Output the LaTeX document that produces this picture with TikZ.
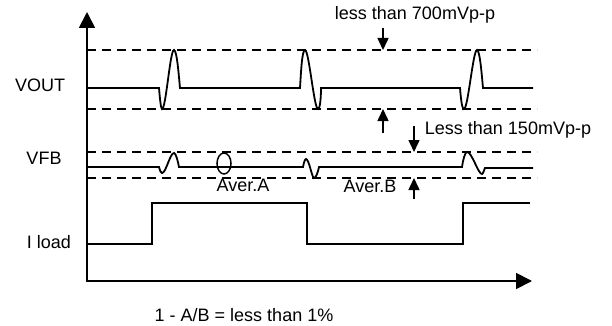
\documentclass[tikz,border=0pt]{standalone}
\usepackage{fontspec}
\setmainfont{Liberation Sans}
\usetikzlibrary{arrows.meta}
\tikzset{wave/.style = {line width = 1.8pt},
         limit/.style = {dash pattern = on 9pt off 6pt, line width = 1.5pt},
         axis/.style = {line width = 1.8pt, {Triangle[length = 16pt, width = 16pt]}-{Triangle[length = 16pt, width = 16pt]}},
         meas/.style = {line width = 1.5pt, -{Triangle[length = 12pt, width = 11pt]}},
         lbl/.style = {font = \fontsize{18}{21}\selectfont, inner sep = 0pt},
}

\begin{document}
\begin{tikzpicture}[x = 1pt, y = -1pt]
  \useasboundingbox (0,0) rectangle (612,326);

  % axes
  \coordinate (ytip) at (87,12);
  \coordinate (xtip) at (532,281);
  \draw[axis] (ytip) |- (xtip);

  % limits
  \draw[limit] (87,50) -- (537,50);
  \draw[limit] (87,109) -- (537,109);
  \draw[limit] (87,152) -- (537,152);
  \draw[limit] (87,178) -- (537,178);

  % labels
  \node[lbl] at (40,85) (vout) {VOUT};
  \node[lbl] at (44,158) (vfb) {VFB};
  \node[lbl] at (49,242) (iload) {I load};
  \node[lbl] at (415,15) (lim1) {less than 700mVp-p};
  \node[lbl] at (508,130) (lim2) {Less than 150mVp-p};
  \node[lbl] at (243,185) (avera) {Aver.A};
  \node[lbl] at (370,186) (averb) {Aver.B};
  \node[lbl] at (244,315) (ratio) {1 - A/B = less than 1\%};

  % VOUT
  \draw[wave] (87,88) -- (159,88) .. controls (160,100) and (161,109) .. (162,109)
    .. controls (166,109) and (170,50) .. (174,50) .. controls (177,50) and (179,78) .. (180,88)
    -- (300,88) .. controls (301,72) and (302,50) .. (305,50)
    .. controls (309,50) and (314,109) .. (318,109) .. controls (320,109) and (321,98) .. (321,88)
    -- (460,88) .. controls (461,100) and (462,109) .. (464,109)
    .. controls (468,109) and (473,50) .. (477,50) .. controls (480,50) and (482,78) .. (483,88)
    -- (533,88);

  % VFB
  \draw[wave] (87,167) -- (159,167) .. controls (160,171) and (161,173) .. (162,173)
    .. controls (166,173) and (170,153) .. (174,153) .. controls (176,153) and (178,162) .. (179,167)
    -- (303,167) .. controls (304,162) and (305,159) .. (306,159)
    .. controls (309,159) and (312,178) .. (314,178) .. controls (316,178) and (318,172) .. (319,167)
    -- (462,167) .. controls (463,160) and (465,152) .. (467,152)
    .. controls (472,152) and (478,174) .. (482,174) .. controls (483,174) and (484,170) .. (485,168)
    -- (533,168);
  \draw[line width = 1.5pt] (224,163.5) ellipse (7 and 10.5);

  % I load
  \draw[wave] (87,244) -- (152,244) -- (152,203) -- (307,203) -- (307,244)
    -- (463,244) -- (463,203) -- (530,203);

  % measure arrows
  \coordinate (a1s) at (383,28);
  \coordinate (a1e) at (383,50);
  \coordinate (a2s) at (383,133);
  \coordinate (a2e) at (383,109);
  \coordinate (a3s) at (414,126);
  \coordinate (a3e) at (414,152);
  \coordinate (a4s) at (414,199);
  \coordinate (a4e) at (414,178);
  \draw[meas] (a1s) -- (a1e);
  \draw[meas] (a2s) -- (a2e);
  \draw[meas] (a3s) -- (a3e);
  \draw[meas] (a4s) -- (a4e);

\end{tikzpicture}
\end{document}
